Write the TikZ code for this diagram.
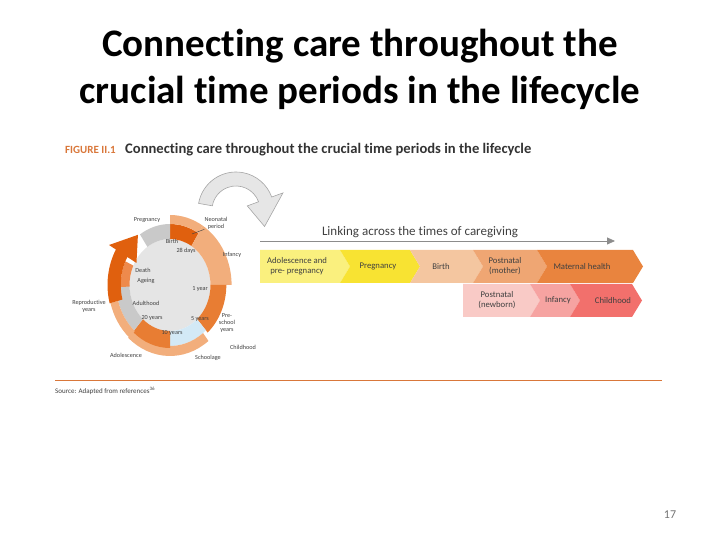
\documentclass[tikz,border=0pt]{standalone}
\usepackage{fontspec}
\setmainfont{Carlito}[Ligatures=NoCommon]
\usetikzlibrary{arrows.meta, positioning, calc}

\definecolor{neo}{HTML}{E0600E}
\definecolor{peach}{HTML}{F2AE7C}
\definecolor{midorange}{HTML}{E87D33}
\definecolor{sky}{HTML}{D3E9F6}
\definecolor{ringgrey}{HTML}{C9C9C9}
\definecolor{discgrey}{HTML}{E5E5E5}
\definecolor{ageorange}{HTML}{EE8A4C}
\definecolor{arrowgrey}{HTML}{E6E6E6}
\definecolor{figorange}{HTML}{D9773A}
\definecolor{labelgrey}{HTML}{404040}
\definecolor{chA}{HTML}{FAF07E}
\definecolor{chB}{HTML}{F8E332}
\definecolor{chC}{HTML}{F4C6A0}
\definecolor{chD}{HTML}{EFA673}
\definecolor{chE}{HTML}{E9843E}
\definecolor{chF}{HTML}{F9CAC6}
\definecolor{chG}{HTML}{F6A3A1}
\definecolor{chH}{HTML}{F2706C}

\tikzset{
	title/.style={font=\bfseries\fontsize{39}{47}\selectfont, inner sep=0pt},
	ringlabel/.style={font=\fontsize{6.2}{7}\selectfont, text=labelgrey, align=center, inner sep=0pt},
	chevtext/.style={font=\fontsize{8.7}{10}\selectfont, text=labelgrey, align=center, inner sep=0pt}
}

% ring segment: start angle, end angle, inner radius, outer radius, colour
\newcommand{\seg}[5]{\fill[#5] (#1:#3) arc[start angle=#1, end angle=#2, radius=#3] -- (#2:#4) arc[start angle=#2, end angle=#1, radius=#4] -- cycle;}
% chevron: name, left, tip, top, notch, colour, text x, text
\newcommand{\chev}[8]{%
	\fill[#6] (#2,#4) -- (#3-10,#4) -- (#3,#4-16.5) -- (#3-10,#4-33) -- (#2,#4-33) -- (#2+#5,#4-16.5) -- cycle;
	\node[chevtext] (#1) at (#7,#4-16.5) {#8};}

\begin{document}
\begin{tikzpicture}[x=1pt, y=1pt]
	\useasboundingbox (0,0) rectangle (720,540);
	
	% Title
	\node[title, anchor=base] (title1) at (360,483) {Connecting care throughout the};
	\node[title, anchor=base] (title2) at (360,436) {crucial time periods in the lifecycle};
	
	% Figure caption
	\node[anchor=base west, inner sep=0pt, font=\bfseries\fontsize{11}{12}\selectfont, text=figorange] (fig) at (65,386) {FIGURE II.1};
	\node[anchor=base west, inner sep=0pt, font=\bfseries\fontsize{14.6}{16}\selectfont, text=black!80] (figtitle) at (125,386) {Connecting care throughout the crucial time periods in the lifecycle};
	
	% Lifecycle ring
	\begin{scope}[shift={(170,255)}, xscale=0.88]
		\fill[discgrey] (0,0) circle[radius=46];
		\seg{58}{90}{46}{61}{neo}
		\seg{58}{90}{61}{70}{peach}
		\seg{0}{58}{46}{70}{peach}
		\seg{-48}{0}{46}{64}{midorange}
		\seg{-90}{-48}{46}{61}{sky}
		\seg{-132}{-52}{61}{71}{peach}
		\seg{-132}{-90}{46}{63}{midorange}
		\seg{180}{228}{46}{61}{ringgrey}
		\seg{195}{229}{61}{70}{peach}
		\seg{155}{182}{46}{56}{ageorange}
		\seg{90}{124}{46}{61}{ringgrey}
		% cycle arrow
		\fill[neo] (150:56) arc[start angle=150, end angle=195, radius=56] -- (195:71)
			arc[start angle=195, end angle=150, radius=71] -- (150:80) -- (126:62) -- (150:44) -- cycle;
	\end{scope}
	
	% Ring labels
	\node[ringlabel] (pregnancy) at (147,320) {Pregnancy};
	\node[ringlabel] (neonatal) at (216,317) {Neonatal\\period};
	\node[ringlabel] (infancy) at (232,285) {Infancy};
	\node[ringlabel] (birth) at (172,299) {Birth};
	\node[ringlabel] (days) at (186,289) {28 days};
	\node[ringlabel] (death) at (143,270) {Death};
	\node[ringlabel] (ageing) at (146,259) {Ageing};
	\node[ringlabel] (oneyear) at (200,251) {1 year};
	\node[ringlabel] (adulthood) at (146,237) {Adulthood};
	\node[ringlabel] (reproductive) at (89,234) {Reproductive\\years};
	\node[ringlabel] (twenty) at (152,222) {20 years};
	\node[ringlabel] (five) at (200,221) {5 years};
	\node[ringlabel] (preschool) at (227,217) {Pre-\\school\\years};
	\node[ringlabel] (ten) at (172,207) {10 years};
	\node[ringlabel] (childhood) at (243,193) {Childhood};
	\node[ringlabel] (adolescence) at (126,185) {Adolescence};
	\node[ringlabel] (schoolage) at (208,182) {Schoolage};
	\coordinate (neotip) at (192,306);
	\draw[labelgrey, line width=0.4] (neonatal.south west) -- (neotip);
	
	% Big grey arrow
	\begin{scope}[shift={(236,330)}]
		\filldraw[fill=arrowgrey, draw=black!35, line width=0.6] (170:38) arc[start angle=170, end angle=20, radius=38]
			-- (20:50) -- (-30:33) -- (20:12) -- (20:24) arc[start angle=20, end angle=170, radius=24] -- cycle;
	\end{scope}
	
	% Linking arrow
	\node[anchor=base, inner sep=0pt, font=\fontsize{13}{15}\selectfont, text=labelgrey] (linking) at (420,304) {Linking across the times of caregiving};
	\coordinate (linkstart) at (260,299);
	\coordinate (linkend) at (615,299);
	\draw[black!45, line width=0.8, -{Triangle[length=8pt, width=7pt]}] (linkstart) -- (linkend);
	
	% Chevrons
	\chev{adol}{260}{350}{290}{0}{chA}{297}{Adolescence and\\pre- pregnancy}
	\chev{preg}{340}{420}{290}{10}{chB}{378}{Pregnancy}
	\chev{birth}{410}{483}{290}{10}{chC}{441}{Birth}
	\chev{postm}{473}{547}{290}{10}{chD}{505}{Postnatal\\(mother)}
	\chev{mat}{537}{643}{290}{10}{chE}{582}{Maternal health}
	\chev{postn}{463}{540}{256}{0}{chF}{497}{Postnatal\\(newborn)}
	\chev{inf}{530}{580}{256}{10}{chG}{558}{Infancy}
	\chev{child}{570}{642}{256}{10}{chH}{613}{Childhood}
	
	% Source
	\draw[figorange, line width=0.9] (55,160) -- (662,160);
	\node[anchor=base west, inner sep=0pt, font=\fontsize{7}{8}\selectfont, text=labelgrey] (source) at (55,146) {Source: Adapted from references\textsuperscript{36}};
	
	\node[font=\fontsize{12}{14}\selectfont, text=black!55] (pagenum) at (670,25) {17};
\end{tikzpicture}
\end{document}
